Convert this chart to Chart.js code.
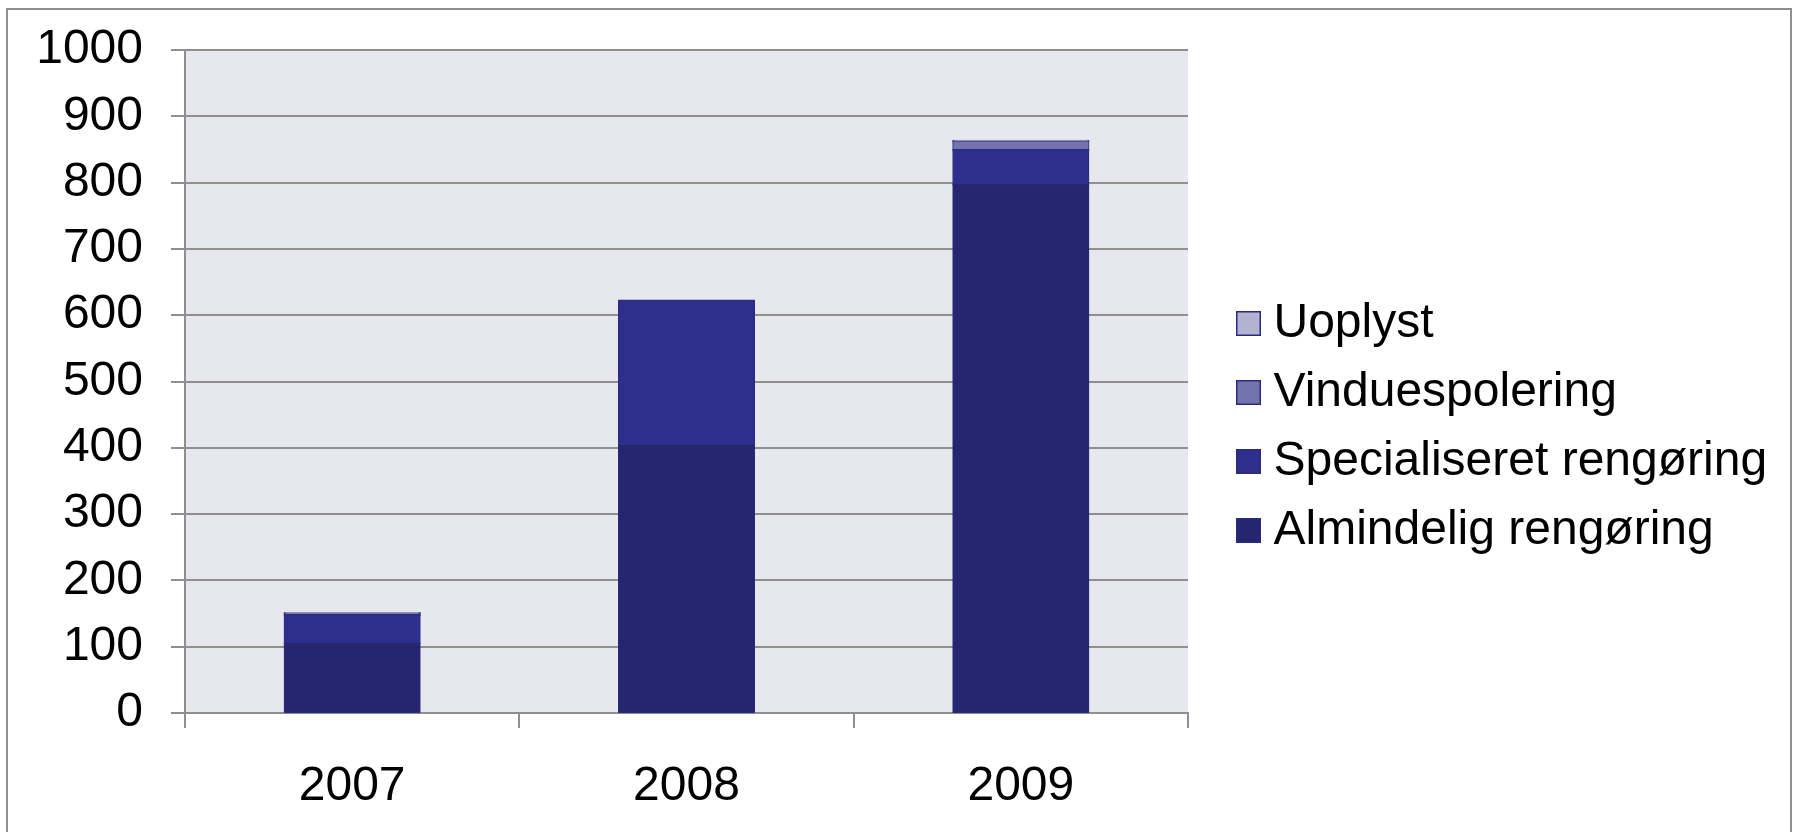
<!DOCTYPE html>
<html>
<head>
<meta charset="utf-8">
<script src="https://cdn.jsdelivr.net/npm/chart.js@4/dist/chart.umd.min.js"></script>
<style>
  html, body { margin: 0; padding: 0; background: #fff; overflow: hidden; }
  #frame { position: absolute; left: 6px; top: 8px; width: 1782px; height: 900px; border: 2px solid #8f8f8f; }
  #chart { position: absolute; left: 0; top: 0; }
</style>
</head>
<body>
<div id="frame"></div>
<canvas id="chart" width="1794" height="832"></canvas>
<script>
const years = ["2007", "2008", "2009"];
const almindelig = [105, 404, 797];
const specialiseret = [43, 218, 52];
const vinduespolering = [2, 0, 13];
const uoplyst = [1, 0, 1];
const yTicks = [0, 100, 200, 300, 400, 500, 600, 700, 800, 900, 1000];

const FONT = "'Liberation Sans', Arial, sans-serif";
const FONT_SIZE = 48;
const gridGray = "#8f8f8f";
const outline = "#2a2b7c";
const colors = ["#25266f", "#2e2f8c", "#7374ad", "#b3b3d1"];

// small square legend markers
const markers = colors.map(c => {
  const cv = document.createElement("canvas");
  cv.width = 25; cv.height = 25;
  const g = cv.getContext("2d");
  g.fillStyle = c;
  g.fillRect(0, 0, 25, 25);
  g.strokeStyle = outline;
  g.lineWidth = 1.5;
  g.strokeRect(0.75, 0.75, 23.5, 23.5);
  return cv;
});

// room the legend needs, so its left edge lands next to the plot
const measure = document.createElement("canvas").getContext("2d");
measure.font = `${FONT_SIZE}px ${FONT}`;
const longest = Math.max(...["Almindelig rengøring", "Specialiseret rengøring", "Vinduespolering", "Uoplyst"]
  .map(t => measure.measureText(t).width));
const padRight = Math.max(0, 510.5 - longest);

const plotBackground = {
  id: "plotBackground",
  beforeDraw(chart) {
    const { ctx, chartArea: a } = chart;
    ctx.save();
    ctx.fillStyle = "#e7e7ee";
    ctx.fillRect(a.left, a.top, a.right - a.left, a.bottom - a.top);
    ctx.restore();
  }
};

// lift the legend block a little above the page centre, as in the original
const legendNudge = {
  id: "legendNudge",
  afterLayout(chart) {
    chart.legend.top -= 14;
    chart.legend.bottom -= 14;
  }
};

function series(label, data, color) {
  return {
    label,
    data,
    backgroundColor: color,
    borderColor: outline,
    borderWidth: 1,
    borderSkipped: false,
    inflateAmount: 1,
    barPercentage: 0.404,
    categoryPercentage: 1
  };
}

new Chart(document.getElementById("chart"), {
  type: "bar",
  data: {
    labels: years,
    datasets: [
      series("Almindelig rengøring", almindelig, colors[0]),
      series("Specialiseret rengøring", specialiseret, colors[1]),
      series("Vinduespolering", vinduespolering, colors[2]),
      series("Uoplyst", uoplyst, colors[3])
    ]
  },
  options: {
    responsive: false,
    devicePixelRatio: 1,
    animation: false,
    layout: { padding: { left: 0, top: 50, right: padRight, bottom: 0 } },
    plugins: {
      tooltip: { enabled: false },
      legend: {
        position: "right",
        align: "center",
        reverse: true,
        maxWidth: 800,
        labels: {
          color: "#000",
          font: { family: FONT, size: FONT_SIZE },
          usePointStyle: true,
          pointStyleWidth: 2,
          boxHeight: 25,
          padding: 21,
          generateLabels: chart => Chart.defaults.plugins.legend.labels.generateLabels(chart)
            .map(item => ({ ...item, pointStyle: markers[item.datasetIndex] }))
        }
      }
    },
    scales: {
      x: {
        stacked: true,
        afterFit: s => { s.height = 119; },
        grid: { offset: true, drawOnChartArea: false, drawTicks: true, tickLength: 15, color: gridGray, lineWidth: 2 },
        border: { color: gridGray, width: 2 },
        ticks: { color: "#000", padding: 30, font: { family: FONT, size: FONT_SIZE } }
      },
      y: {
        stacked: true,
        min: 0,
        max: 1000,
        afterFit: s => { s.width = 185; },
        afterBuildTicks: s => { s.ticks = yTicks.map(v => ({ value: v })); },
        grid: { color: gridGray, lineWidth: 2, tickLength: 14 },
        border: { color: gridGray, width: 2 },
        ticks: { color: "#000", padding: 28, callback: v => String(v), font: { family: FONT, size: FONT_SIZE, lineHeight: 0.9 } }
      },
      gap: {
        type: "linear",
        position: "right",
        display: true,
        grid: { display: false },
        border: { display: false },
        ticks: { display: false },
        afterFit: s => { s.width = 38.5; }
      }
    }
  },
  plugins: [plotBackground, legendNudge]
});
</script>
</body>
</html>
